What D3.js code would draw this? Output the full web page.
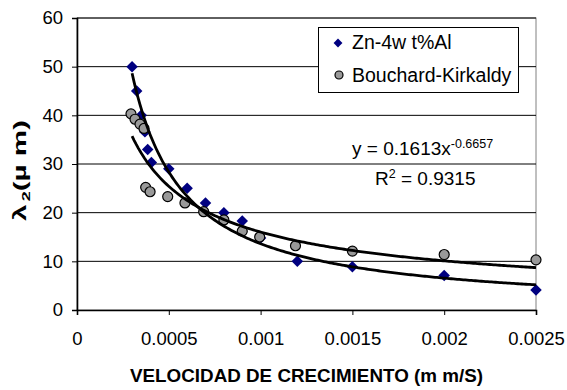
<!DOCTYPE html>
<html>
<head>
<meta charset="utf-8">
<script src="https://cdn.jsdelivr.net/npm/d3@7/dist/d3.min.js"></script>
<style>
  html, body { margin: 0; padding: 0; background: #fff; }
  svg { display: block; font-family: "Liberation Sans", Arial, sans-serif; }
</style>
</head>
<body>
<svg id="chart" width="567" height="390"></svg>
<script>
// Growth velocity (mm/s) vs secondary dendrite arm spacing λ2 (µm)
const znX = [0.0003, 0.000325, 0.00035, 0.00037, 0.000385, 0.000405, 0.0005, 0.0006,
             0.0007, 0.0008, 0.0009, 0.001, 0.0012, 0.0015, 0.002, 0.0025];
const znY = [50, 45, 40, 36.6, 33, 30.3, 29, 25, 22, 20, 18.3, 14.8, 10, 8.9, 7.1, 4.1];

const bkX = [0.000294, 0.000316, 0.000343, 0.000365, 0.000374, 0.000398, 0.000494, 0.000588,
             0.00069, 0.0008, 0.0009, 0.000995, 0.00119, 0.0015, 0.002, 0.0025];
const bkY = [40.3, 39.2, 38.2, 37.3, 25.2, 24.3, 23.3, 22, 20.2, 18.5, 16.2, 15, 13.2, 12.1, 11.4, 10.3];

const seriesNames = ["Zn-4w t%Al", "Bouchard-Kirkaldy"];
const xTicks = [0, 0.0005, 0.001, 0.0015, 0.002, 0.0025];
const xTickLabels = ["0", "0.0005", "0.001", "0.0015", "0.002", "0.0025"];
const yTicks = [0, 10, 20, 30, 40, 50, 60];

// Power trendline stated on the chart for the Bouchard-Kirkaldy data
const bkFit = { a: 0.1613, b: -0.6657, r2: "0.9315" };
const fitRange = [0.0003, 0.0025];

const xTitle = "VELOCIDAD DE CRECIMIENTO (m m/S)";

const svg = d3.select("#chart");
const plotL = 77, plotR = 536, plotT = 18, plotB = 310;

const x = d3.scaleLinear().domain([0, 0.0025]).range([plotL, plotR]);
const y = d3.scaleLinear().domain([0, 60]).range([plotB, plotT]);

// least-squares power fit (log-log) for the Zn-4wt%Al series
function powerFit(xs, ys) {
  const lx = xs.map(Math.log), ly = ys.map(Math.log);
  const mx = d3.mean(lx), my = d3.mean(ly);
  let sxy = 0, sxx = 0;
  lx.forEach((v, i) => { sxy += (v - mx) * (ly[i] - my); sxx += (v - mx) * (v - mx); });
  const b = sxy / sxx;
  return { a: Math.exp(my - b * mx), b };
}
const znFit = powerFit(znX, znY);

// plot frame
svg.append("rect")
  .attr("x", plotL).attr("y", plotT)
  .attr("width", plotR - plotL).attr("height", plotB - plotT)
  .attr("fill", "#fff").attr("stroke", "#808080").attr("stroke-width", 1);

// gridlines
svg.append("g").selectAll("line")
  .data(yTicks.filter(d => d > 0))
  .join("line")
  .attr("x1", plotL).attr("x2", plotR)
  .attr("y1", d => y(d)).attr("y2", d => y(d))
  .attr("stroke", "#000").attr("stroke-width", 1);

// y axis
const yAxis = svg.append("g")
  .attr("transform", `translate(${plotL},0)`)
  .call(d3.axisLeft(y).tickValues(yTicks).tickSize(5).tickPadding(9).tickFormat(d3.format("d")));
yAxis.select(".domain").attr("stroke", "#000").attr("stroke-width", 1.6);
yAxis.selectAll(".tick line").attr("stroke", "#000");
yAxis.selectAll(".tick text")
  .attr("font-size", 18.5).attr("fill", "#000")
  .attr("font-family", "Liberation Sans, Arial, sans-serif");

// x axis
const xAxis = svg.append("g")
  .attr("transform", `translate(0,${plotB})`)
  .call(d3.axisBottom(x).tickValues(xTicks).tickSize(5).tickPadding(0)
    .tickFormat((d, i) => xTickLabels[i]));
xAxis.select(".domain").attr("stroke", "#000").attr("stroke-width", 1.6);
xAxis.selectAll(".tick line").attr("stroke", "#000");
xAxis.selectAll(".tick text")
  .attr("font-size", 18.5).attr("fill", "#000")
  .attr("font-family", "Liberation Sans, Arial, sans-serif")
  .attr("dy", null).attr("y", 35);

// data markers
const diamond = d3.symbol().type(d3.symbolDiamond2).size(84);
svg.append("g").selectAll("path")
  .data(znX.map((v, i) => [v, znY[i]]))
  .join("path")
  .attr("d", diamond)
  .attr("transform", d => `translate(${x(d[0])},${y(d[1])})`)
  .attr("fill", "#000080");

svg.append("g").selectAll("circle")
  .data(bkX.map((v, i) => [v, bkY[i]]))
  .join("circle")
  .attr("cx", d => x(d[0])).attr("cy", d => y(d[1]))
  .attr("r", 5)
  .attr("fill", "#999999").attr("stroke", "#000").attr("stroke-width", 1.2);

// trendlines
const samples = d3.range(0, 201).map(i => fitRange[0] + (fitRange[1] - fitRange[0]) * i / 200);
const line = d3.line().x(d => x(d[0])).y(d => y(d[1]));
[znFit, bkFit].forEach(f => {
  svg.append("path")
    .attr("d", line(samples.map(v => [v, f.a * Math.pow(v, f.b)])))
    .attr("fill", "none").attr("stroke", "#000").attr("stroke-width", 2.8);
});

// trendline equation
const eq = svg.append("text").attr("x", 352).attr("y", 155).attr("font-size", 19).attr("fill", "#000");
eq.append("tspan").text(`y = ${bkFit.a}x`);
eq.append("tspan").attr("font-size", 12.5).attr("dy", -7).text(`${bkFit.b}`);

const r2 = svg.append("text").attr("x", 375).attr("y", 185).attr("font-size", 19).attr("fill", "#000");
r2.append("tspan").text("R");
r2.append("tspan").attr("font-size", 12.5).attr("dy", -7).text("2");
r2.append("tspan").attr("dy", 7).text(` = ${bkFit.r2}`);

// legend
const lg = svg.append("g");
lg.append("rect").attr("x", 318.5).attr("y", 27.5).attr("width", 200).attr("height", 65)
  .attr("fill", "#fff").attr("stroke", "#000").attr("stroke-width", 1);
lg.append("path").attr("d", d3.symbol().type(d3.symbolDiamond2).size(50))
  .attr("transform", "translate(338,43)").attr("fill", "#000080");
lg.append("circle").attr("cx", 339).attr("cy", 75).attr("r", 4)
  .attr("fill", "#999999").attr("stroke", "#000").attr("stroke-width", 1.2);
lg.selectAll("text.lbl")
  .data(seriesNames)
  .join("text")
  .attr("class", "lbl")
  .attr("x", 352).attr("y", (d, i) => i === 0 ? 49 : 82)
  .attr("font-size", 19.5).attr("fill", "#000")
  .text(d => d);

// axis titles
svg.append("text")
  .attr("x", 130).attr("y", 382)
  .attr("font-size", 18).attr("font-weight", "bold").attr("fill", "#000")
  .attr("textLength", 353).attr("lengthAdjust", "spacingAndGlyphs")
  .text(xTitle);

const yt = svg.append("text")
  .attr("transform", "translate(26,221) rotate(-90)")
  .attr("font-size", 18).attr("font-weight", "bold").attr("fill", "#000")
  .attr("textLength", 101).attr("lengthAdjust", "spacingAndGlyphs");
yt.append("tspan").text("λ");
yt.append("tspan").attr("font-size", 11).attr("dy", 4).attr("dx", 2).text("2");
yt.append("tspan").attr("dy", -4).text("(µ m)");
</script>
</body>
</html>
